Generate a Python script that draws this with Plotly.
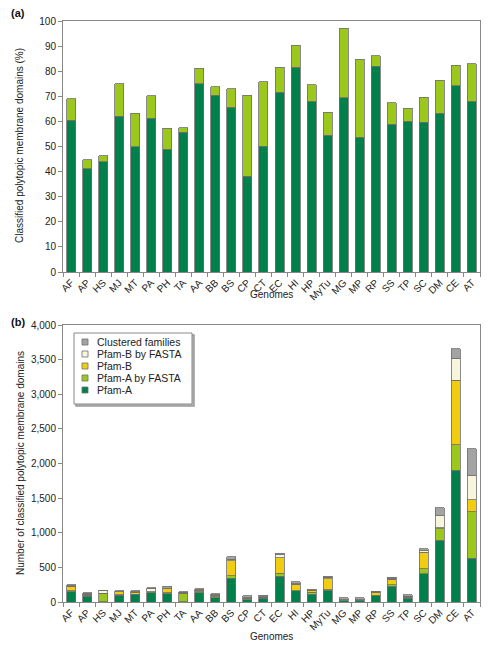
import plotly.graph_objects as go

genomes = ["AF", "AP", "HS", "MJ", "MT", "PA", "PH", "TA", "AA", "BB", "BS", "CP", "CT",
           "EC", "HI", "HP", "MyTu", "MG", "MP", "RP", "SS", "TP", "SC", "DM", "CE", "AT"]

# Panel (a): percentage classified (Pfam-A, and total incl. FASTA extension)
pct_pfam_a = [60.5, 41.2, 43.9, 62.1, 49.9, 61.3, 48.9, 55.7, 75.1, 70.5, 65.7, 38.2, 50.1,
              71.7, 81.6, 68.0, 54.4, 69.5, 53.7, 82.0, 58.8, 60.1, 59.6, 63.3, 74.3, 68.1]
pct_total = [69.1, 44.8, 46.4, 75.1, 63.2, 70.3, 57.2, 57.4, 81.1, 73.9, 73.1, 70.5, 75.8,
             81.5, 90.3, 74.7, 63.6, 97.1, 84.8, 86.2, 67.4, 65.2, 69.7, 76.3, 82.4, 83.0]
pct_extra = [round(t - a, 1) for t, a in zip(pct_total, pct_pfam_a)]

# Panel (b): numbers of classified polytopic membrane domains
n_pfam_a = [150, 80, 3, 95, 105, 135, 120, 3, 135, 60, 345, 35, 55,
            375, 160, 115, 170, 20, 25, 90, 230, 55, 405, 890, 1900, 635]
n_pfam_a_fasta = [15, 20, 125, 10, 10, 15, 15, 120, 10, 15, 35, 20, 10,
                  40, 5, 25, 10, 10, 5, 10, 20, 15, 75, 165, 370, 670]
n_pfam_b = [65, 10, 0, 40, 25, 0, 55, 0, 25, 20, 215, 5, 5,
            225, 90, 25, 155, 0, 0, 40, 75, 10, 235, 15, 930, 170]
n_pfam_b_fasta = [5, 20, 45, 5, 5, 50, 10, 15, 10, 10, 25, 5, 5,
                  45, 10, 5, 25, 5, 5, 5, 20, 5, 30, 175, 320, 350]
n_clustered = [15, 5, 0, 15, 15, 5, 25, 10, 15, 15, 30, 25, 25,
               20, 30, 15, 10, 30, 25, 10, 15, 20, 25, 115, 140, 390]

legend_labels = ["Clustered families", "Pfam-B by FASTA", "Pfam-B", "Pfam-A by FASTA", "Pfam-A"]

c_dark = "#00804a"
c_light = "#9cc81e"
c_yellow = "#f2cd0f"
c_cream = "#f7f5dc"
c_gray = "#a3a3a3"
line_c = "#6e6e6e"

# the page body adds an 8px offset; figure coordinates below are screen coords minus 8
OFF = 8
W, H = 491, 641
L, R, T, B = 63 - OFF, 19, 21 - OFF, 47
PW, PH = W - L - R, H - T - B


def px_x(sx):
    return (sx - OFF - L) / PW


def px_y(sy):
    return (H - B - (sy - OFF)) / PH


fig = go.Figure()

fig.add_trace(go.Bar(x=genomes, y=pct_pfam_a, marker=dict(color=c_dark, line=dict(color=line_c, width=0.8)),
                     xaxis="x", yaxis="y", showlegend=False))
fig.add_trace(go.Bar(x=genomes, y=pct_extra, marker=dict(color=c_light, line=dict(color=line_c, width=0.8)),
                     xaxis="x", yaxis="y", showlegend=False))

series_b = [("Pfam-A", n_pfam_a, c_dark), ("Pfam-A by FASTA", n_pfam_a_fasta, c_light),
            ("Pfam-B", n_pfam_b, c_yellow), ("Pfam-B by FASTA", n_pfam_b_fasta, c_cream),
            ("Clustered families", n_clustered, c_gray)]
colors_by_name = {n: c for n, _, c in series_b}
for name, vals, col in series_b:
    fig.add_trace(go.Bar(x=genomes, y=vals, name=name,
                         marker=dict(color=col, line=dict(color=line_c, width=0.8)),
                         xaxis="x2", yaxis="y2", showlegend=False))

font = "Liberation Sans, Arial, sans-serif"
axis_common = dict(showline=True, linecolor="#888", linewidth=1, mirror=True, showgrid=False,
                   zeroline=False, ticks="outside", tickcolor="#888", ticklen=4, automargin=False,
                   tickfont=dict(size=10, color="#222"))

fig.update_layout(
    width=W, height=H,
    margin=dict(l=L, r=R, t=T, b=B),
    barmode="stack", bargap=0.44,
    plot_bgcolor="white", paper_bgcolor="white",
    font=dict(family=font, size=10, color="#222"),
    showlegend=False,
    xaxis=dict(domain=[0, 1], anchor="y", tickangle=-45, tickson="boundaries", **axis_common),
    yaxis=dict(domain=[px_y(272), 1], anchor="x", range=[0, 100], dtick=10, **axis_common),
    xaxis2=dict(domain=[0, 1], anchor="y2", tickangle=-45, tickson="boundaries", **axis_common),
    yaxis2=dict(domain=[0, px_y(325)], anchor="x2", range=[0, 4000], dtick=500, tickformat=",",
                **axis_common),
)

ann_font = dict(family=font, size=10, color="#222")


def label(text, sx, sy, angle=0, xanchor="center", f=ann_font):
    fig.add_annotation(text=text, xref="paper", yref="paper", x=px_x(sx), y=px_y(sy),
                       textangle=angle, xanchor=xanchor, yanchor="middle", showarrow=False, font=f)


# axis titles
label("Genomes", 271, 294)
label("Genomes", 271, 636)
label("Classified polytopic membrane domains (%)", 20, 146, angle=-90)
label("Number of classified polytopic membrane domains", 20, 463, angle=-90)
# panel labels
bold = dict(family=font, size=11, color="#111")
label("<b>(a)</b>", 9, 13, xanchor="left", f=bold)
label("<b>(b)</b>", 9, 322, xanchor="left", f=bold)

# legend box (drawn compactly to match the original)
fig.add_shape(type="rect", xref="paper", yref="paper", x0=px_x(76), x1=px_x(194), y0=px_y(406), y1=px_y(335),
              line=dict(color="#9a9a9a", width=1.5), fillcolor="#bdbdbd", layer="above")
fig.add_shape(type="rect", xref="paper", yref="paper", x0=px_x(74), x1=px_x(192), y0=px_y(404), y1=px_y(333),
              line=dict(color="#888", width=1), fillcolor="white", layer="above")
row_y = [342, 354, 366, 378, 390]
for lab, ry in zip(legend_labels, row_y):
    fig.add_shape(type="rect", xref="paper", yref="paper", x0=px_x(82), x1=px_x(88),
                  y0=px_y(ry + 3), y1=px_y(ry - 3), line=dict(color=line_c, width=0.8),
                  fillcolor=colors_by_name[lab], layer="above")
    label(lab, 95, ry, xanchor="left", f=dict(family=font, size=10.5, color="#222"))

fig.write_html("out.html")
